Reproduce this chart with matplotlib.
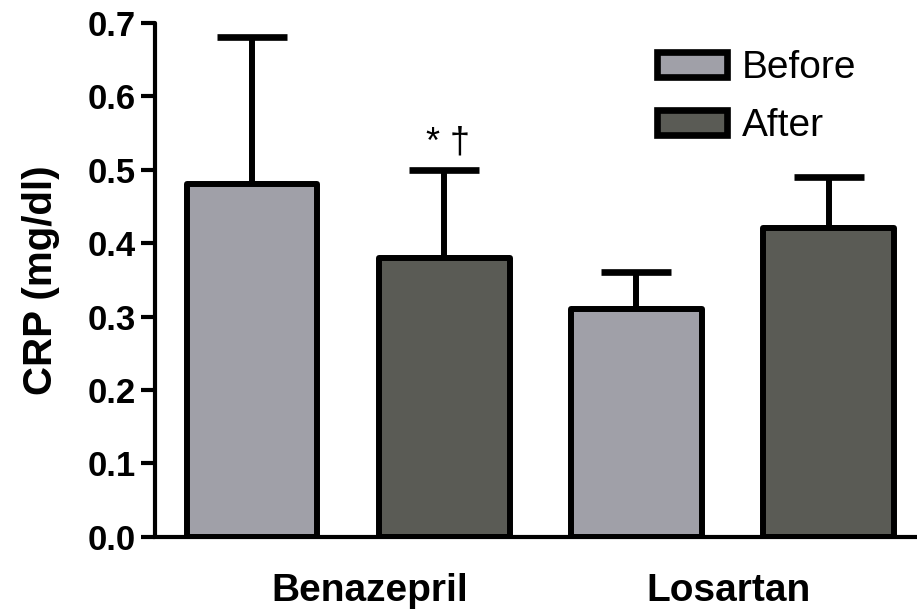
import matplotlib
matplotlib.use("Agg")
import matplotlib.pyplot as plt
from matplotlib.patches import Patch
import numpy as np

plt.rcParams['font.family'] = ['Liberation Sans', 'DejaVu Sans']

groups = ["Benazepril", "Losartan"]
series = ["Before", "After"]
means = [0.48, 0.38, 0.31, 0.42]          # Benazepril Before/After, Losartan Before/After
err_upper = [0.20, 0.12, 0.05, 0.07]
bar_series = ["Before", "After", "Before", "After"]
colors = {"Before": "#a0a0a8", "After": "#5a5b55"}
yticks = [0.0, 0.1, 0.2, 0.3, 0.4, 0.5, 0.6, 0.7]
annotation = "* \u2020"

fig = plt.figure(figsize=(9.17, 6.15), dpi=100)
ax = fig.add_axes([0.169, 0.127, 0.831, 0.836])

x = np.arange(len(means))
ax.errorbar(x, means, yerr=[np.zeros(len(means)), err_upper], fmt='none',
            ecolor='black', elinewidth=4.3, capsize=25, capthick=4.8, zorder=1)
ax.bar(x, means, width=0.68, color=[colors[s] for s in bar_series],
       edgecolor='black', linewidth=4.3, zorder=2, joinstyle='round')

ax.text(x[1] + 0.02, means[1] + err_upper[1] + 0.012, annotation, ha='center',
        va='bottom', fontsize=26)

ax.set_xlim(-0.505, 3.46)
ax.set_ylim(0, 0.7)
ax.set_yticks(yticks)
ax.set_yticklabels([f"{t:.1f}" for t in yticks], fontsize=25, fontweight='bold')
ax.set_xticks([0.61, 2.48])
ax.set_xticklabels(groups, fontsize=28, fontweight='bold')
ax.tick_params(axis='x', length=0, pad=26)
ax.tick_params(axis='y', length=10, width=3, pad=4)
ax.set_ylabel("CRP (mg/dl)", fontsize=29, fontweight='bold', labelpad=20)

for s in ['top', 'right']:
    ax.spines[s].set_visible(False)
ax.spines['left'].set_linewidth(3)
ax.spines['bottom'].set_linewidth(3)
ax.spines['left'].set_capstyle('round')

handles = [Patch(facecolor=colors[s], edgecolor='black', linewidth=4.8, label=s) for s in series]
ax.legend(handles=handles, loc='upper left', bbox_to_anchor=(0.716, 0.918),
          bbox_transform=fig.transFigure, frameon=False, fontsize=28,
          handlelength=1.8, handleheight=0.62, handletextpad=0.4, labelspacing=0.55,
          borderpad=0, borderaxespad=0)

fig.savefig("out.png", dpi=100)
